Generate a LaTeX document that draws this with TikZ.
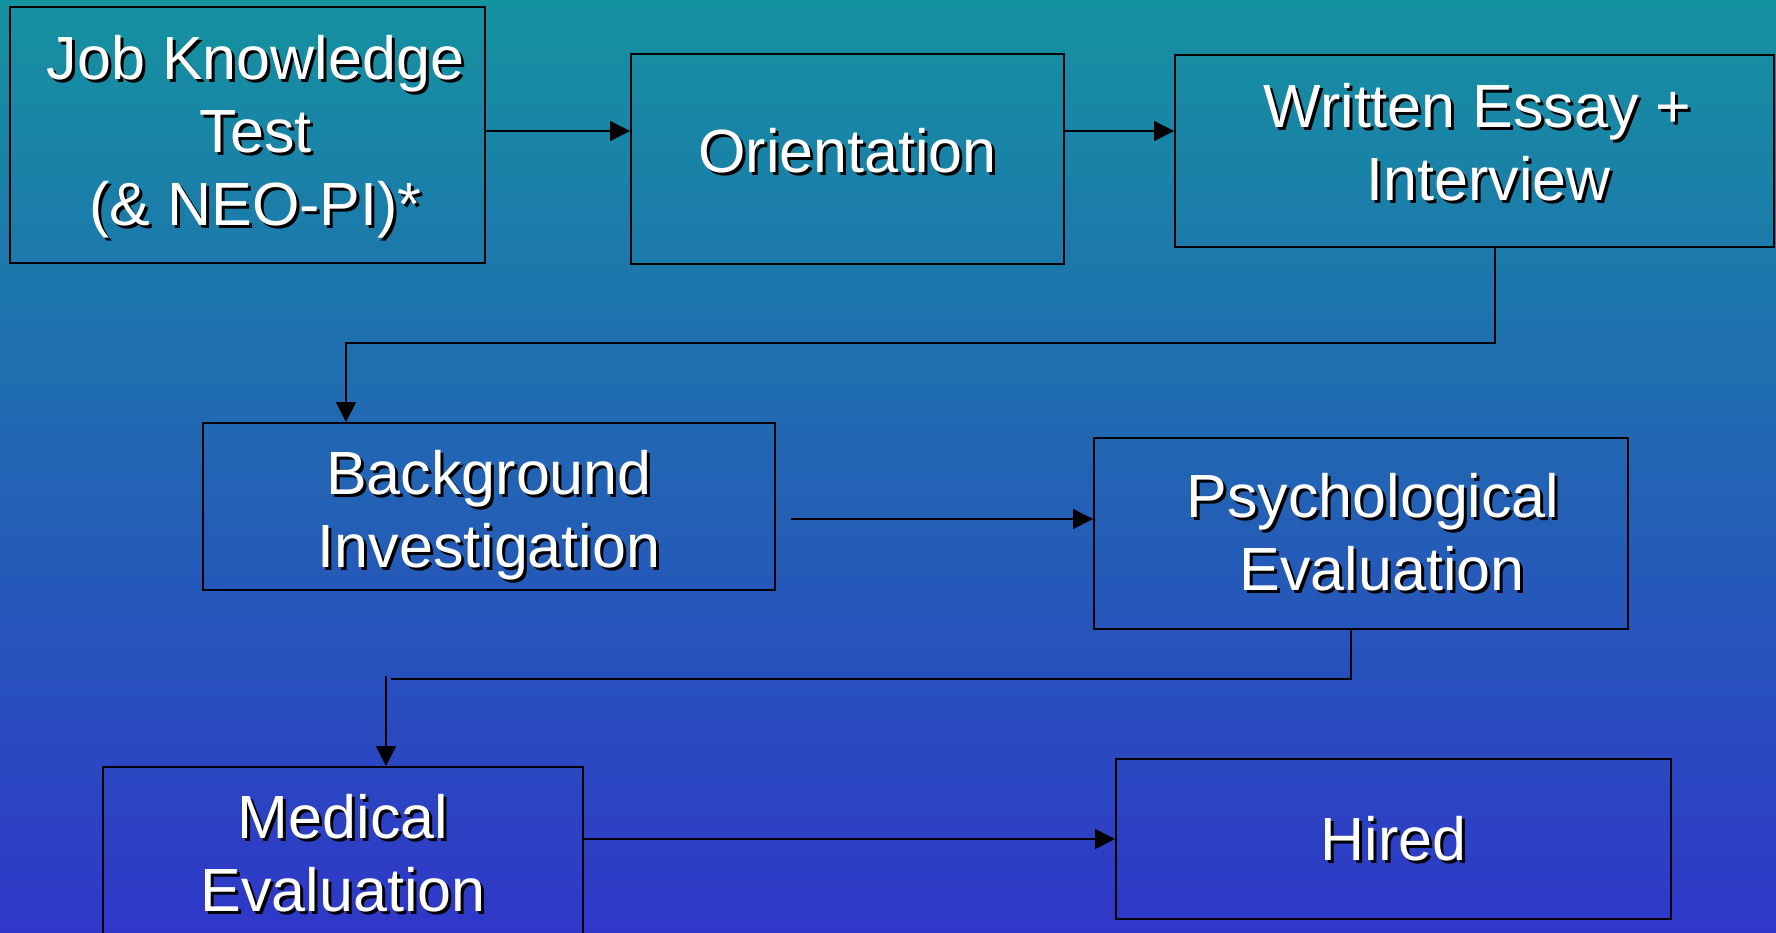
\documentclass[tikz,border=0pt]{standalone}
\usepackage{fontspec}
\setmainfont{Liberation Sans}
\usetikzlibrary{arrows.meta}
\definecolor{bgtop}{RGB}{21,146,160}
\definecolor{bgbot}{RGB}{47,55,200}
\newcommand\shtxt[1]{\leavevmode\rlap{\kern3pt\smash{\raisebox{-3pt}{\color{black}#1}}}{\color{white}#1}}
\tikzset{
  stagebox/.style={draw=black, line width=2pt, rectangle, inner sep=0pt},
  lbl/.style={inner sep=0pt, align=center, font=\fontsize{61}{73}\selectfont, text=white},
  arr/.style={draw=black, line width=1.6pt, -{Triangle[length=20pt,width=20pt]}},
  plainline/.style={draw=black, line width=1.6pt},
}
\begin{document}
\begin{tikzpicture}[x=1pt,y=-1pt]
\useasboundingbox (0,0) rectangle (1776,932);
\fill[top color=bgtop, bottom color=bgbot] (0,0) rectangle (1776,932);

\node[stagebox, minimum width=475pt, minimum height=256pt] (b1) at (247.5,135) {};
\node[stagebox, minimum width=433pt, minimum height=210pt] (b2) at (847.5,159) {};
\node[stagebox, minimum width=599pt, minimum height=192pt] (b3) at (1474.5,151) {};
\node[stagebox, minimum width=572pt, minimum height=167pt] (b4) at (489,506.5) {};
\node[stagebox, minimum width=534pt, minimum height=191pt] (b5) at (1361,533.5) {};
\node[stagebox, minimum width=480pt, minimum height=178pt] (b6) at (343,856) {};
\node[stagebox, minimum width=555pt, minimum height=160pt] (b7) at (1393.5,839) {};

\node[lbl] (b1t) at ([shift={(8,2)}]b1.center)
  {\shtxt{Job Knowledge}\\\shtxt{Test}\\\shtxt{(\& NEO-PI)*}};
\node[lbl] (b2t) at ([shift={(0,-8)}]b2.center) {\shtxt{Orientation}};
\node[lbl] (b3t) at ([shift={(3,-9)}]b3.center)
  {\shtxt{Written Essay +}\\\hspace*{22pt}\shtxt{Interview}};
\node[lbl] (b4t) at ([shift={(0,9)}]b4.center)
  {\shtxt{Background}\\\shtxt{Investigation}};
\node[lbl] (b5t) at ([shift={(12,-1)}]b5.center)
  {\shtxt{Psychological}\\\hspace*{18pt}\shtxt{Evaluation}};
\node[lbl] (b6t) at ([shift={(0,-3)}]b6.center)
  {\shtxt{Medical}\\\shtxt{Evaluation}};
\node[lbl] (b7t) at (b7.center) {\shtxt{Hired}};

\coordinate (r1) at (0,131);
\draw[arr] (b1.east |- r1) -- (b2.west |- r1);
\draw[arr] (b2.east |- r1) -- (b3.west |- r1);

\coordinate (k3) at (1495,343);
\coordinate (k4) at (346,343);
\draw[arr] (b3.south -| k3) -- (k3) -- (k4) -- (b4.north -| k4);

\coordinate (s4) at (791,519);
\draw[arr] (s4) -- (b5.west |- s4);

\coordinate (k5) at (1351,679);
\coordinate (k6) at (391,679);
\draw[plainline] (b5.south -| k5) -- (k5) -- (k6);
\coordinate (k7) at (386,676);
\draw[arr] (k7) -- (b6.north -| k7);

\coordinate (r6) at (0,839);
\draw[arr] (b6.east |- r6) -- (b7.west |- r6);
\end{tikzpicture}
\end{document}
